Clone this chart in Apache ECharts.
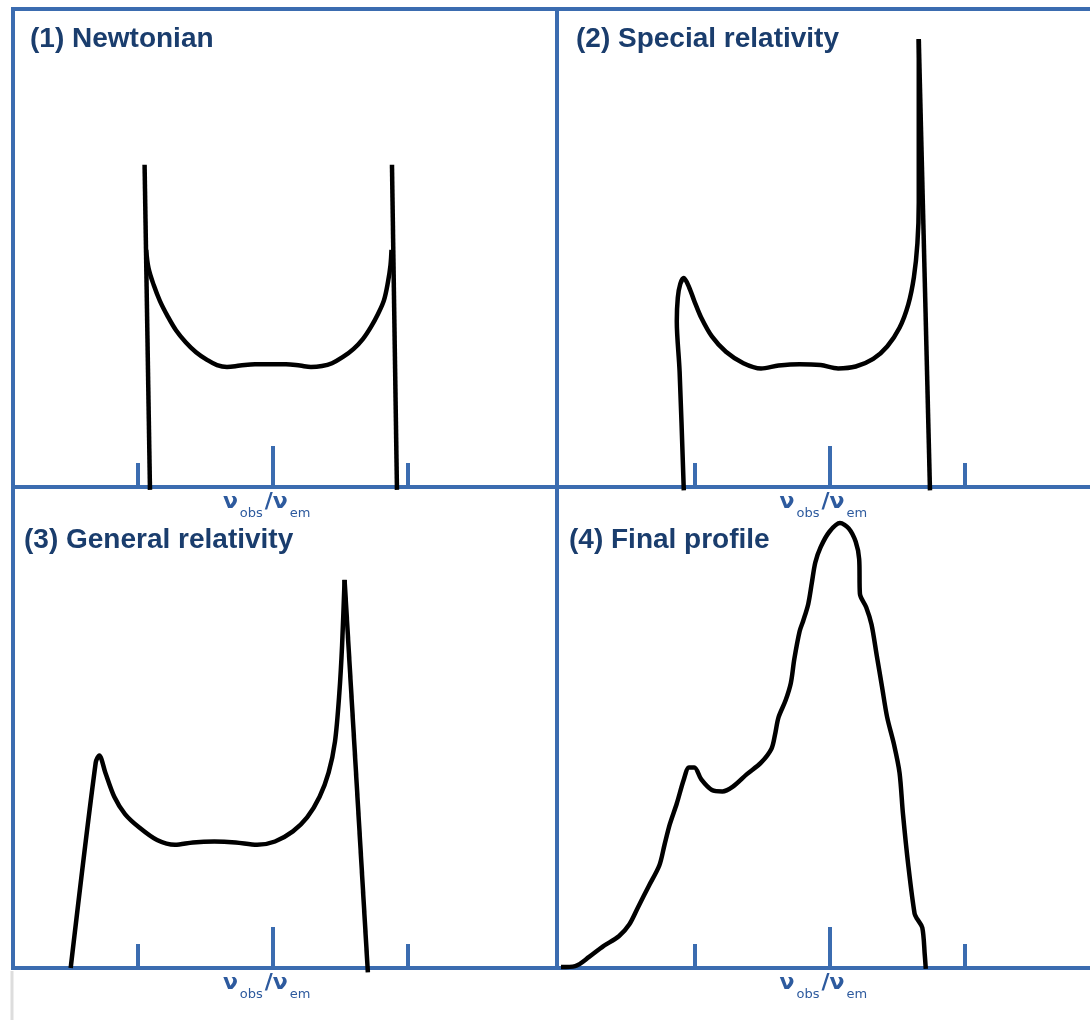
<!DOCTYPE html>
<html>
<head>
<meta charset="utf-8">
<script src="https://cdn.jsdelivr.net/npm/echarts@6/dist/echarts.min.js"></script>
<style>
  html, body { margin: 0; padding: 0; background: #ffffff; }
  #chart { width: 1090px; height: 1020px; }
</style>
</head>
<body>
<div id="chart"></div>
<script>
// Reference ticks on the ν_obs/ν_em axis (short side ticks, long centre tick)
const sideTicks = [0.8, 1.2];
const centreTick = [1.0];

const panelTitles = ['(1) Newtonian', '(2) Special relativity', '(3) General relativity', '(4) Final profile'];

// (1) Newtonian: symmetric double-horned profile
const newtonianLeftEdge = [[0.8182, -0.6], [0.8102, 67.4]];
const newtonianBody = [
  [0.8126, 49.6], [0.8160, 45.8], [0.8236, 42.3], [0.8330, 38.9], [0.8449, 35.6],
  [0.8567, 32.8], [0.8711, 30.3], [0.8864, 28.2], [0.9027, 26.6], [0.9175, 25.5],
  [0.9323, 25.1], [0.9516, 25.4], [0.9738, 25.7], [0.9960, 25.7], [1.0197, 25.7],
  [1.0404, 25.4], [1.0567, 25.1], [1.0730, 25.3], [1.0879, 25.9], [1.1041, 27.2],
  [1.1199, 28.9], [1.1338, 31.0], [1.1456, 33.5], [1.1560, 36.2], [1.1649, 39.1],
  [1.1708, 42.9], [1.1745, 46.4], [1.1760, 49.6]
];
const newtonianRightEdge = [[1.1767, 67.4], [1.1841, -0.6]];

// (2) Special relativity: beaming boosts the blue horn
const specialBody = [
  [0.7843, -0.7], [0.7781, 24.1], [0.7739, 34.7], [0.7754, 39.6], [0.7791, 42.5],
  [0.7843, 43.7], [0.7921, 41.8], [0.7999, 38.9], [0.8102, 35.4], [0.8259, 31.5],
  [0.8467, 28.3], [0.8726, 25.9], [0.8987, 24.8], [0.9246, 25.4], [0.9559, 25.7],
  [0.9870, 25.5], [1.0129, 24.8], [1.0390, 25.2], [1.0649, 26.8], [1.0856, 29.4],
  [1.1039, 33.3], [1.1169, 38.2], [1.1252, 43.9], [1.1304, 51.0], [1.1324, 59.5],
  [1.1324, 73.6], [1.1324, 93.7]
];
const specialRightEdge = [[1.1324, 93.7], [1.1490, -0.7]];

// (3) General relativity: gravitational redshift drags the profile to lower ν
const generalBody = [
  [0.7007, 0.0], [0.7378, 42.7], [0.7431, 44.2], [0.7521, 40.6], [0.7653, 35.6],
  [0.7812, 32.0], [0.8024, 29.2], [0.8287, 26.6], [0.8553, 25.6], [0.8818, 26.1],
  [0.9135, 26.3], [0.9452, 26.1], [0.9769, 25.6], [1.0034, 26.3], [1.0299, 28.4],
  [1.0510, 31.3], [1.0695, 35.6], [1.0828, 40.6], [1.0923, 47.1], [1.0987, 57.1],
  [1.1028, 67.1], [1.1065, 80.7]
];
const generalRightEdge = [[1.1065, 80.7], [1.1410, -0.9]];

// (4) Final profile: skewed, broad line with an extended red wing
const finalProfile = [
  [0.6024, 0.2], [0.6233, 0.4], [0.6440, 2.3], [0.6647, 4.5], [0.6881, 6.6],
  [0.7037, 9.1], [0.7167, 12.7], [0.7323, 17.0], [0.7480, 21.3], [0.7557, 25.6],
  [0.7636, 29.9], [0.7739, 34.2], [0.7843, 39.2], [0.7921, 41.7], [0.7999, 41.7],
  [0.8102, 39.2], [0.8259, 37.0], [0.8415, 36.7], [0.8570, 37.7], [0.8778, 40.3],
  [0.8987, 42.7], [0.9142, 45.6], [0.9194, 48.5], [0.9246, 52.1], [0.9350, 55.6],
  [0.9428, 59.2], [0.9480, 64.2], [0.9559, 70.0], [0.9610, 72.1], [0.9687, 75.7],
  [0.9739, 80.0], [0.9791, 84.3], [0.9870, 87.5], [1.0000, 90.7], [1.0156, 92.5],
  [1.0286, 91.4], [1.0390, 88.6], [1.0441, 85.0], [1.0452, 77.8], [1.0545, 75.0],
  [1.0624, 71.4], [1.0701, 65.0], [1.0779, 58.5], [1.0856, 52.1], [1.0960, 46.3],
  [1.1039, 40.6], [1.1090, 32.0], [1.1169, 21.3], [1.1262, 11.3], [1.1300, 10.2],
  [1.1376, 8.4], [1.1413, 2.7], [1.1428, -0.2]
];

const BLUE = '#3b6cb0';
const TITLE_BLUE = '#1a3d6d';
const LABEL_BLUE = '#2d5a9e';

// panel frames: left column and right column share one ν scale each
const panels = [
  { left: 13,  top: 9,   width: 544, height: 478, min: 0.61526, max: 1.42119 },
  { left: 557, top: 9,   width: 560, height: 478, min: 0.59644, max: 1.42607 },
  { left: 13,  top: 487, width: 544, height: 481, min: 0.61526, max: 1.42119 },
  { left: 557, top: 487, width: 560, height: 481, min: 0.59644, max: 1.42607 }
];
const titlePos = [
  { left: 30,  top: 25 },
  { left: 576, top: 25 },
  { left: 24,  top: 526 },
  { left: 569, top: 526 }
];

const grid = panels.map(p => ({
  left: p.left, top: p.top, width: p.width, height: p.height,
  show: true, borderColor: BLUE, borderWidth: 4, backgroundColor: 'transparent',
  containLabel: false, outerBoundsMode: 'none'
}));

const xAxis = [];
const yAxis = [];
panels.forEach((p, i) => {
  xAxis.push({
    type: 'value', gridIndex: i, min: p.min, max: p.max, position: 'bottom', offset: 0,
    axisLine: { show: false }, splitLine: { show: false },
    axisTick: { show: true, inside: true, length: 24, customValues: sideTicks,
                lineStyle: { color: BLUE, width: 4 } },
    axisLabel: {
      show: true, customValues: centreTick, margin: 8,
      formatter: () => '{n|ν}{s|obs}{n|/ν}{s|em}',
      padding: [0, 10, 0, 0],
      rich: {
        n: { fontFamily: 'DejaVu Sans', fontWeight: 'bold', fontSize: 22, lineHeight: 22,
             color: LABEL_BLUE, padding: [0, 0, 7, 0] },
        s: { fontFamily: 'DejaVu Sans', fontSize: 13, lineHeight: 13, color: LABEL_BLUE,
             padding: [16, 2, 0, 2] }
      }
    }
  });
  xAxis.push({
    type: 'value', gridIndex: i, min: p.min, max: p.max, position: 'bottom', offset: 0,
    axisLine: { show: false }, splitLine: { show: false },
    axisTick: { show: true, inside: true, length: 41, customValues: centreTick,
                lineStyle: { color: BLUE, width: 4 } },
    axisLabel: { show: false }
  });
  yAxis.push({ type: 'value', gridIndex: i, min: 0, max: 100, show: false });
});

function curve(data, panel, smooth) {
  return {
    type: 'line', data: data, xAxisIndex: panel * 2, yAxisIndex: panel,
    symbol: 'none', smooth: smooth, clip: false, silent: true, z: 3,
    lineStyle: { color: '#000000', width: 4.5, join: 'round' }
  };
}

const option = {
  backgroundColor: '#ffffff',
  animation: false,
  title: panelTitles.map((t, i) => ({
    text: t, left: titlePos[i].left, top: titlePos[i].top, padding: 0,
    textStyle: { fontFamily: 'Liberation Sans', fontWeight: 'bold', fontSize: 28, color: TITLE_BLUE }
  })),
  grid: grid,
  xAxis: xAxis,
  yAxis: yAxis,
  graphic: [{
    type: 'line', silent: true,
    shape: { x1: 12, y1: 971, x2: 12, y2: 1020 },
    style: { stroke: '#dddddd', lineWidth: 3 }
  }],
  series: [
    curve(newtonianLeftEdge, 0, false),
    curve(newtonianBody, 0, 0.35),
    curve(newtonianRightEdge, 0, false),
    curve(specialBody, 1, 0.3),
    curve(specialRightEdge, 1, false),
    curve(generalBody, 2, 0.3),
    curve(generalRightEdge, 2, false),
    curve(finalProfile, 3, 0.3)
  ]
};

const chart = echarts.init(document.getElementById('chart'), null, { renderer: 'canvas' });
chart.setOption(option);
</script>
</body>
</html>
